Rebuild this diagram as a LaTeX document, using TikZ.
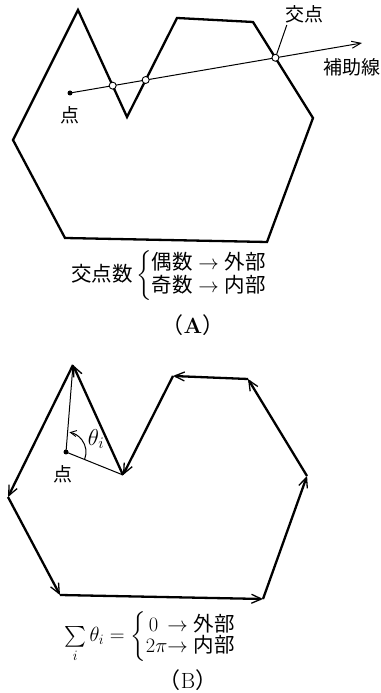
\RequirePackage{fix-cm}
\documentclass[tikz,border=0pt]{standalone}
\usepackage{fontspec}
\usepackage{amsmath}
\newfontfamily\cjk{Noto Sans CJK JP}
\usetikzlibrary{arrows.meta}
\tikzset{
  poly/.style={line width=2.3pt, line join=miter},
  ray/.style={line width=1pt, -{Straight Barb[length=9pt,width=7pt,line width=1pt]}},
  edge/.style={line width=2.3pt, -{Straight Barb[length=10pt,width=9pt,line width=1.3pt]}},
  thin/.style={line width=1pt},
  cross/.style={circle, draw, fill=white, line width=0.9pt, inner sep=0pt, minimum size=7pt},
  dot/.style={circle, fill=black, inner sep=0pt, minimum size=5pt},
  lbl/.style={font=\cjk\fontsize{19}{22}\selectfont, inner sep=0pt},
  eqn/.style={font=\fontsize{20.5}{23}\selectfont, inner sep=0pt},
}
\begin{document}
\begin{tikzpicture}[x=1pt,y=1pt]
\useasboundingbox (0,0) rectangle (380,693);
% ---------- Figure A ----------
\coordinate (a1) at (78,683);
\coordinate (a2) at (127,576);
\coordinate (a3) at (177,675);
\coordinate (a4) at (253,671);
\coordinate (a5) at (313,575);
\coordinate (a6) at (267,451);
\coordinate (a7) at (65,455);
\coordinate (a8) at (13,553);
\draw[poly] (a1)--(a2)--(a3)--(a4)--(a5)--(a6)--(a7)--(a8)--cycle;
\node[dot] (P) at (70,600) {};
\coordinate (R) at (362,650);
\draw[ray] (P.center) -- (R);
\node[cross] (c1) at (intersection of P--R and a1--a2) {};
\node[cross] (c2) at (intersection of P--R and a2--a3) {};
\node[cross] (c3) at (intersection of P--R and a4--a5) {};
\node[lbl] (kouten) at (304,679) {交点};
\draw[thin] (c3) -- ([shift={(2pt,-2pt)}]kouten.south west);
\node[lbl] (hojo) at (352,626) {補助線};
\node[lbl] (tenA) at (70,578) {点};
\node[eqn] (eqA) at (169,417) {$\mbox{\cjk 交点数}\left\{\begin{array}{@{}l@{}}\mbox{\cjk 偶数}\rightarrow\mbox{\cjk 外部}\\[-1pt] \mbox{\cjk 奇数}\rightarrow\mbox{\cjk 内部}\end{array}\right.$};
\node[font=\fontsize{22}{24}\selectfont, inner sep=0pt] (capA) at (193,368) {{\cjk （}\textbf{A}{\cjk ）}};
% ---------- Figure B ----------
\coordinate (b1) at (73,328);
\coordinate (b2) at (123,218);
\coordinate (b3) at (173,317);
\coordinate (b4) at (248,314);
\coordinate (b5) at (307,217);
\coordinate (b6) at (263,94);
\coordinate (b7) at (60,98);
\coordinate (b8) at (8,196);
\draw[edge] (b1) -- (b8);
\draw[edge] (b8) -- (b7);
\draw[edge] (b7) -- (b6);
\draw[edge] (b6) -- (b5);
\draw[edge] (b5) -- (b4);
\draw[edge] (b4) -- (b3);
\draw[edge] (b3) -- (b2);
\draw[edge] (b2) -- (b1);
\node[dot] (Q) at (66,241) {};
\draw[thin] (b1) -- (Q.center) -- (b2);
\draw[thin, -{Straight Barb[length=6pt,width=6pt,line width=0.9pt]}] ([shift={(-22:20pt)}]Q.center) arc[start angle=-22, end angle=80, radius=20pt];
\node[font=\fontsize{23}{26}\selectfont, inner sep=0pt] (theta) at (96,254) {$\theta_i$};
\node[lbl] (tenB) at (63,219) {点};
\node[eqn] (eqB) at (150,56) {$\sum\limits_i\theta_i=\left\{\begin{array}{@{}c@{}l@{}}0\ &\rightarrow\mbox{\cjk 外部}\\[-3pt] 2\pi&\rightarrow\mbox{\cjk 内部}\end{array}\right.$};
\node[font=\fontsize{22}{24}\selectfont, inner sep=0pt] (capB) at (188,13) {{\cjk （}B{\cjk ）}};
\end{tikzpicture}
\end{document}
